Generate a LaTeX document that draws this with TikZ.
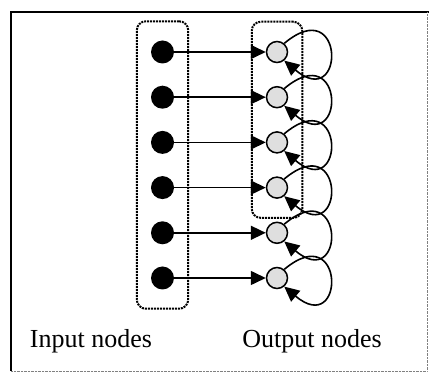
\documentclass[tikz,border=0pt]{standalone}
\usepackage{fontspec}
\setmainfont{Liberation Serif}
\usetikzlibrary{arrows.meta,fit}

\tikzset{
  innode/.style={circle, fill=black, minimum size=23pt, inner sep=0pt},
  outnode/.style={circle, draw=black, line width=1.5pt, fill=gray!25, minimum size=21pt, inner sep=0pt},
  layerbox/.style={draw, line width=2pt, densely dotted, rounded corners=9pt, inner xsep=14pt, inner ysep=19pt},
  link/.style={-{Triangle[length=15pt,width=14pt]}, line width=1.6pt},
  caption/.style={font=\fontsize{26}{30}\selectfont},
}

\begin{document}
\begin{tikzpicture}[x=1pt, y=1pt]
  \useasboundingbox (0,0) rectangle (429,372);
  % frame
  \draw[line width=1.2pt] (11,1) -- (11,360) -- (429,360);
  \draw[densely dotted, gray] (11,1) -- (427,1) -- (427,360);
  % nodes and links, one row each
  \foreach \i in {1,...,6} {
    \pgfmathsetmacro\yrow{320-45.2*(\i-1)}
    \node[innode] (in\i) at (162.5,\yrow) {};
    \node[outnode] (out\i) at (277,\yrow) {};
    \draw[link] (in\i) -- (out\i);
    \draw[link] (out\i.50) .. controls +(40:80) and +(-40:80) .. (out\i.-50);
  }
  \node[layerbox, fit=(in1)(in6)] (inbox) {};
  \node[layerbox, fit=(out1)(out4)] (outbox) {};
  \node[caption] (inlabel) at (91,31) {Input nodes};
  \node[caption] (outlabel) at (312,31) {Output nodes};
\end{tikzpicture}
\end{document}
